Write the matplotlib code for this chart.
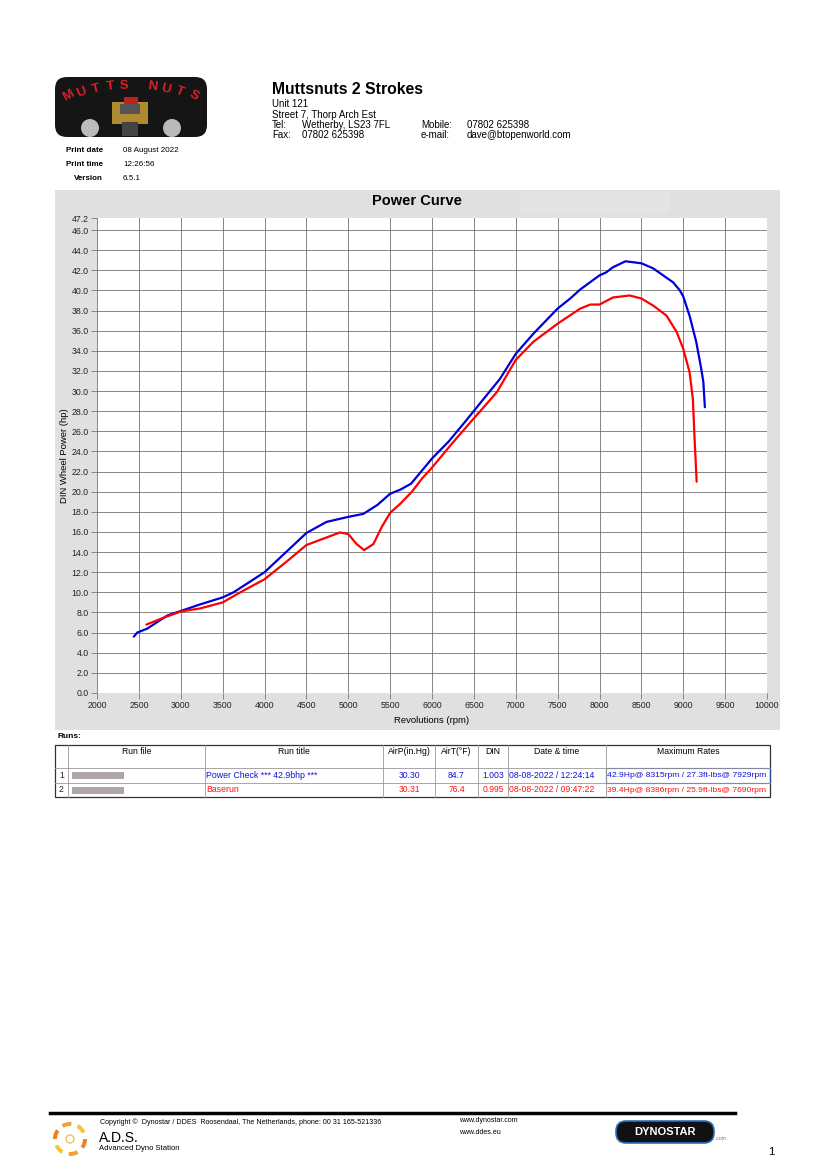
import matplotlib
matplotlib.use("Agg")
import matplotlib.pyplot as plt
from matplotlib.patches import Rectangle, FancyBboxPatch, Circle, Wedge

plt.rcParams['font.family'] = ['Liberation Sans', 'DejaVu Sans']

# run 1 (blue): Power Check
rpm_blue = [2440, 2480, 2600, 2840, 3000, 3230, 3500, 3630, 4000, 4270, 4500, 4740,
            5000, 5180, 5350, 5500, 5620, 5750, 5870, 6000, 6200, 6400, 6575, 6810,
            7000, 7210, 7500, 7650, 7770, 8000, 8080, 8160, 8310, 8500, 8640, 8760,
            8880, 8960, 9000, 9075, 9155, 9215, 9240, 9258]
hp_blue = [5.6, 6.0, 6.4, 7.7, 8.15, 8.8, 9.5, 10.0, 12.0, 14.1, 15.9, 17.0,
           17.5, 17.8, 18.7, 19.8, 20.2, 20.8, 22.0, 23.3, 25.0, 27.0, 28.8, 31.2,
           33.7, 35.7, 38.2, 39.2, 40.1, 41.5, 41.8, 42.3, 42.9, 42.7, 42.2, 41.5,
           40.8, 40.0, 39.4, 37.5, 34.9, 32.2, 30.9, 28.4]

# run 2 (red): Baserun
rpm_red = [2590, 2800, 3000, 3230, 3500, 3710, 4000, 4270, 4500, 4740, 4900, 5000,
           5100, 5190, 5300, 5400, 5500, 5620, 5760, 5880, 6000, 6250, 6500, 6575,
           6775, 7000, 7210, 7500, 7770, 7890, 8000, 8160, 8360, 8500, 8640, 8800,
           8920, 9000, 9075, 9115, 9135, 9160]
hp_red = [6.8, 7.5, 8.1, 8.4, 9.0, 10.0, 11.3, 13.1, 14.7, 15.45, 15.95, 15.8,
          14.8, 14.2, 14.8, 16.5, 17.9, 18.8, 20.0, 21.3, 22.4, 24.9, 27.3, 28.0,
          29.9, 33.1, 34.9, 36.7, 38.2, 38.6, 38.6, 39.3, 39.5, 39.2, 38.5, 37.5,
          35.9, 34.2, 31.9, 29.2, 25.3, 21.0]

x_ticks = list(range(2000, 10001, 500))
y_ticks = [i * 2.0 for i in range(24)] + [47.2]

table_header = ["", "Run file", "Run title", "AirP(in.Hg)", "AirT(°F)", "DIN", "Date & time", "Maximum Rates"]
run_rows = [
    ["1", "", "Power Check *** 42.9bhp ***", "30.30", "84.7", "1.003", "08-08-2022 / 12:24:14",
     "42.9Hp@ 8315rpm / 27.3ft-lbs@ 7929rpm"],
    ["2", "", "Baserun", "30.31", "76.4", "0.995", "08-08-2022 / 09:47:22",
     "39.4Hp@ 8386rpm / 25.9ft-lbs@ 7690rpm"],
]
run_colors = ["#1010e0", "#ff1010"]

W, H = 826, 1169
fig = plt.figure(figsize=(W / 100, H / 100), dpi=100)

# page layer in pixel coordinates
page = fig.add_axes([0, 0, 1, 1], zorder=0)
page.set_xlim(0, W)
page.set_ylim(H, 0)
page.axis("off")

# logo
page.add_patch(FancyBboxPatch((55, 77), 152, 60, boxstyle="round,pad=0,rounding_size=12",
                              fc="#151515", ec="none"))
for ch, lx, ly, rot in zip("MUTTS NUTS", range(68, 200, 14),
                           [96, 92, 89, 87, 86, 86, 87, 89, 92, 96],
                           [30, 22, 14, 7, 2, -2, -7, -14, -22, -30]):
    page.text(lx, ly, ch, color="#d8202a", fontsize=9.5, fontweight="bold",
              ha="center", va="center", rotation=rot)
page.add_patch(Rectangle((112, 102), 36, 22, fc="#b08a30", ec="none"))
page.add_patch(Rectangle((120, 104), 20, 10, fc="#555555", ec="none"))
page.add_patch(Rectangle((124, 97), 14, 7, fc="#c02020", ec="none"))
page.add_patch(Circle((90, 128), 9, fc="#bbbbbb", ec="none"))
page.add_patch(Circle((172, 128), 9, fc="#bbbbbb", ec="none"))
page.add_patch(Rectangle((122, 122), 16, 14, fc="#444444", ec="none"))

# company header
page.text(272, 89, "Muttsnuts 2 Strokes", fontsize=11.3, fontweight="bold", va="center")
small = dict(fontsize=7, va="center")
page.text(272, 104, "Unit 121", **small)
page.text(272, 115, "Street 7, Thorp Arch Est", **small)
page.text(272, 125, "Tel:", **small)
page.text(302, 125, "Wetherby, LS23 7FL", **small)
page.text(272, 135, "Fax:", **small)
page.text(302, 135, "07802 625398", **small)
page.text(421, 125, "Mobile:", **small)
page.text(467, 125, "07802 625398", **small)
page.text(421, 135, "e-mail:", **small)
page.text(467, 135, "dave@btopenworld.com", **small)

for yy, lab, val in [(151, "Print date", "08 August 2022"), (165, "Print time", "12:26:56"),
                     (179, "Version", "6.5.1")]:
    page.text(103, yy, lab, fontsize=5.8, fontweight="bold", ha="right", va="center")
    page.text(123, yy, val, fontsize=5.8, va="center")

# gray chart panel
page.add_patch(Rectangle((55, 190), 725, 540, fc="#e0e0e0", ec="none"))
page.add_patch(Rectangle((520, 193), 150, 20, fc="#e6e3e4", ec="none"))
page.text(417, 201, "Power Curve", fontsize=10.5, fontweight="bold", ha="center", va="center")

# chart
ax = fig.add_axes([97 / W, 1 - 693 / H, 670 / W, 475 / H], zorder=1)
ax.set_facecolor("white")
ax.plot(rpm_blue, hp_blue, color="#0000d8", lw=1.6, solid_capstyle="round")
ax.plot(rpm_red, hp_red, color="#ff0000", lw=1.6, solid_capstyle="round")
ax.set_xlim(2000, 10000)
ax.set_ylim(0, 47.2)
ax.set_xticks(x_ticks)
ax.set_yticks(y_ticks)
ax.set_yticklabels([f"{v:.1f}" for v in y_ticks])
ax.tick_params(labelsize=6.3, labelcolor="#222222", color="#777777", length=4, width=0.6, pad=2)
ax.grid(True, color="#707070", lw=0.6)
ax.yaxis.get_gridlines()[-1].set_visible(False)
for s in ax.spines.values():
    s.set_visible(False)
ax.set_xlabel("Revolutions (rpm)", fontsize=6.8, labelpad=4)
ax.set_ylabel("DIN Wheel Power (hp)", fontsize=6.8, labelpad=2)

# runs table
page.text(57, 737, "Runs:", fontsize=6, fontweight="bold", va="center")
col_x = [55, 68, 205, 383, 435, 478, 508, 606, 770]
row_y = [745, 768, 783, 797]
for cx in col_x[1:-1]:
    page.plot([cx, cx], [row_y[0], row_y[-1]], color="#999999", lw=0.6)
for ry in row_y[1:-1]:
    page.plot([col_x[0], col_x[-1]], [ry, ry], color="#999999", lw=0.6)
page.add_patch(Rectangle((col_x[0], row_y[0]), col_x[-1] - col_x[0], row_y[-1] - row_y[0],
                         fc="none", ec="#333333", lw=0.9))
for i, h in enumerate(table_header):
    page.text((col_x[i] + col_x[i + 1]) / 2, 751, h, fontsize=6.2, ha="center", va="center")
for r, (row, colr) in enumerate(zip(run_rows, run_colors)):
    yc = (row_y[r + 1] + row_y[r + 2]) / 2
    page.text(59, yc, row[0], fontsize=6.2, va="center", color="#222222")
    page.add_patch(Rectangle((72, yc - 3.5), 52, 7, fc="#9a9090", ec="none", alpha=0.8))
    page.text(col_x[2] + 1, yc, row[2], fontsize=6.3, va="center", color=colr)
    for c in (3, 4, 5):
        page.text((col_x[c] + col_x[c + 1]) / 2, yc, row[c], fontsize=6.2, ha="center",
                  va="center", color=colr)
    page.text(col_x[6] + 1, yc, row[6], fontsize=6.2, va="center", color=colr)
    page.text(col_x[7] + 1, yc, row[7], fontsize=6.1, va="center", color=colr)
page.add_patch(Rectangle((col_x[7], row_y[1]), col_x[8] - col_x[7], row_y[2] - row_y[1],
                         fc="none", ec="#2040a0", lw=0.8))

# footer
page.plot([50, 735], [1113, 1113], color="black", lw=2.5)
page.text(100, 1122, "Copyright ©  Dynostar / DDES  Roosendaal, The Netherlands, phone: 00 31 165-521336",
          fontsize=5.1, va="center")
page.text(99, 1138, "A.D.S.", fontsize=10, va="center")
page.text(99, 1149, "Advanced Dyno Station", fontsize=5.5, va="center")
page.text(459, 1121, "www.dynostar.com", fontsize=5, va="center")
page.text(459, 1132, "www.ddes.eu", fontsize=5, va="center")
for k, ang in enumerate(range(0, 360, 60)):
    page.add_patch(Wedge((70, 1139), 17, ang, ang + 35, width=4,
                         fc=["#f08020", "#f5a030", "#f8c040"][k % 3], ec="none"))
page.add_patch(Circle((70, 1139), 4, fc="none", ec="#f0b040", lw=0.8))
page.add_patch(FancyBboxPatch((616, 1121), 98, 22, boxstyle="round,pad=0,rounding_size=10",
                              fc="#111111", ec="#2a6fc0", lw=1.2))
page.text(665, 1132, "DYNOSTAR", fontsize=8, fontweight="bold", color="white",
          ha="center", va="center")
page.text(716, 1139, ".com", fontsize=3.5, color="#777777", va="center")
page.text(768, 1152, "1", fontsize=8, va="center")

fig.savefig("out.png", dpi=100)
